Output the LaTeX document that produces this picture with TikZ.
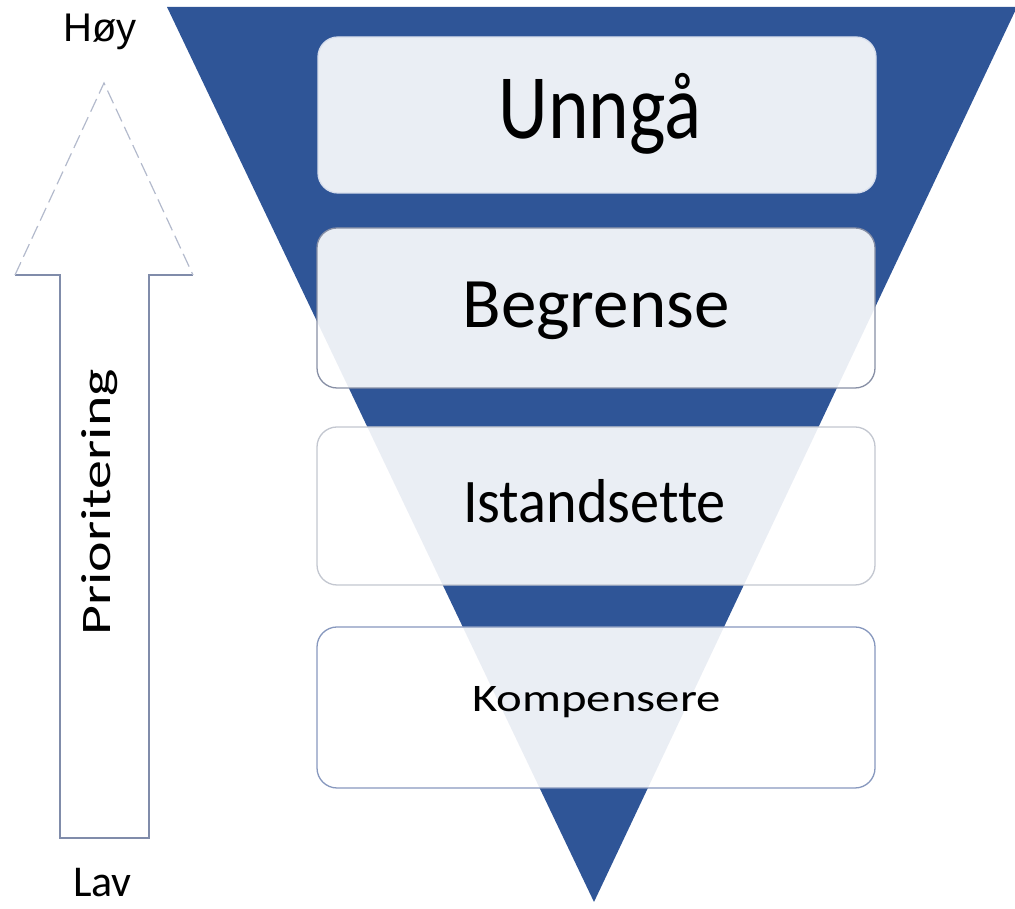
\documentclass[tikz,border=0pt]{standalone}
\usepackage{fontspec}
\setmainfont{Carlito}[Ligatures=NoCommon]
\newfontfamily\arialf{Liberation Sans}
\definecolor{triblue}{RGB}{47,85,151}
\definecolor{arrowline}{RGB}{128,140,170}
\definecolor{bordA}{RGB}{215,222,236}
\definecolor{bordB}{RGB}{135,143,165}
\definecolor{bordC}{RGB}{195,199,208}
\definecolor{bordD}{RGB}{135,152,190}
\tikzset{
  levelbox/.style={rectangle, rounded corners=20pt, minimum width=558pt, inner sep=0pt,
    fill=white, fill opacity=0.9, line width=1.3pt},
  lbl/.style={anchor=base, inner sep=0pt, text=black},
  arrowsolid/.style={draw=arrowline, line width=1.3pt},
  arrowfade/.style={draw=arrowline!60, line width=1.2pt, dash pattern=on 14pt off 6pt}
}
\begin{document}
\begin{tikzpicture}[x=1pt,y=1pt]
\useasboundingbox (0,0) rectangle (1015,909);
% inverted triangle
\fill[triblue] (167,902) -- (1017,902) -- (594,7) -- cycle;
% boxes
\node[levelbox, draw=bordA, minimum height=156pt] (b1) at (597,794) {};
\node[levelbox, draw=bordB, minimum height=160pt] (b2) at (596,601) {};
\node[levelbox, draw=bordC, minimum height=158pt] (b3) at (596,403) {};
\node[levelbox, draw=bordD, minimum height=161pt] (b4) at (596,201.5) {};
% labels
\node[lbl] (t1) at (600,770) {\fontsize{92}{96}\selectfont\scalebox{0.84}[1]{Unngå}};
\node[lbl] (t2) at (596,581) {\fontsize{71}{75}\selectfont Begrense};
\node[lbl] (t3) at (594.5,386) {\fontsize{62}{66}\selectfont\scalebox{0.94}[1]{Istandsette}};
\node[lbl] (t4) at (596.5,197) {\fontsize{39}{43}\selectfont\scalebox{1.25}[1]{Kompensere}};
% priority arrow
\coordinate (tip) at (104,826);
\coordinate (hl) at (15,634);
\coordinate (hr) at (193,634);
\coordinate (sl) at (60,634);
\coordinate (sr) at (149,634);
\coordinate (bl) at (60,71);
\coordinate (br) at (149,71);
\draw[arrowsolid] (hl) -- (sl) -- (bl) -- (br) -- (sr) -- (hr);
\draw[arrowfade] (hl) -- (tip) -- (hr);
\node[lbl, rotate=90] (prio) at (110,406.5) {\fontsize{42}{46}\selectfont\scalebox{1.38}[1]{Prioritering}};
\node[lbl] (hoy) at (100,867) {\arialf\fontsize{40}{44}\selectfont Høy};
\node[lbl] (lav) at (102.5,12) {\fontsize{44}{48}\selectfont Lav};
\end{tikzpicture}
\end{document}
